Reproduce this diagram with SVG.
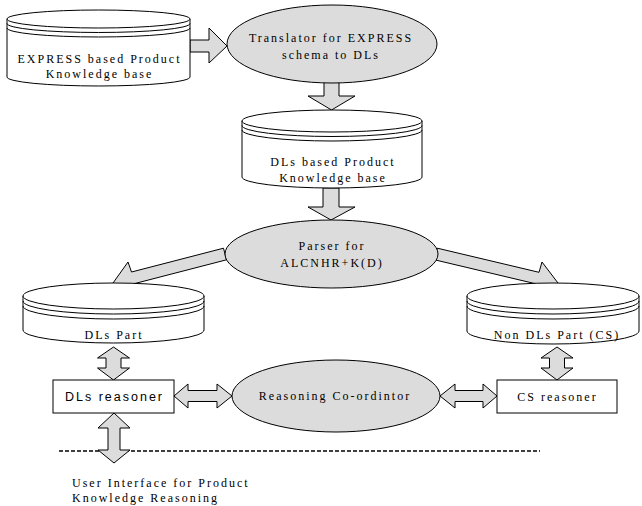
<svg xmlns="http://www.w3.org/2000/svg" width="642" height="506" viewBox="0 0 642 506">
<style>
.cyl{fill:#ffffff;stroke:#000;stroke-width:1}
.ln{fill:none;stroke:#000;stroke-width:1}
.proc{fill:#dcdcdc;stroke:#000;stroke-width:1}
.box{fill:#ffffff;stroke:#000;stroke-width:1}
.arr{fill:#dcdcdc;stroke:#000;stroke-width:1;stroke-linejoin:miter}
.t{font-family:"Liberation Serif","Times New Roman",serif;font-size:12px;letter-spacing:2px;fill:#000;text-anchor:middle}
.s{font-family:"Liberation Sans",Arial,sans-serif;font-size:12.5px;letter-spacing:2px;fill:#000;text-anchor:middle}
.tl{font-family:"Liberation Serif","Times New Roman",serif;font-size:12px;letter-spacing:2px;fill:#000}
</style>
<rect width="642" height="506" fill="#ffffff"/>
<g id="connectors">
<line x1="59" y1="451" x2="540" y2="451" stroke="#000" stroke-width="1.5" stroke-dasharray="4 2"/>
<polygon class="arr" points="190,40 209,40 209,28 227,46 209,63 209,52 190,52"/>
<polygon class="arr" points="324,80 339,80 339,96 355,96 331.5,110 308,96 324,96"/>
<polygon class="arr" points="323,188 339,188 339,207 355,207 331,220 308,207 323,207"/>
<polygon class="arr" points="223.5,248.2 131.5,272 128,262 113,283 139,293.5 134.5,283.6 226.5,259.8"/>
<polygon class="arr" points="437.4,248.2 539,272.3 542,262 558,283 531,293.5 536.2,283.9 434.6,259.8"/>
<polygon class="arr" points="113.5,347 129.5,358 121,358 121,368 129.5,368 113.5,380 97.5,368 106,368 106,358 97.5,358"/>
<polygon class="arr" points="557,347 573,358 564.5,358 564.5,368 573,368 557,380 541,368 549.5,368 549.5,358 541,358"/>
<polygon class="arr" points="114,413 130,428 120,428 120,450 130,450 114,463 98,450 108,450 108,428 98,428"/>
<polygon class="arr" points="174,396 188,384 188,390.5 217,390.5 217,384 232,396 217,408 217,401.5 188,401.5 188,408"/>
<polygon class="arr" points="440,396 455,384 455,390.5 483,390.5 483,384 497,396 483,408 483,401.5 455,401.5 455,408"/>
</g>
<g id="express-kb">
<path class="cyl" d="M7,19 L7,77 A91.5,9 0 0 0 190,77 L190,19 Z"/>
<ellipse class="cyl" cx="98.5" cy="19" rx="91.5" ry="9"/>
<path class="ln" d="M7,23.5 A91.5,9 0 0 0 190,23.5 M7,28 A91.5,9 0 0 0 190,28"/>
<text class="t" x="99.5" y="63">EXPRESS based Product</text>
<text class="t" x="99.5" y="78">Knowledge base</text>
</g>
<g id="translator">
<ellipse class="proc" cx="332" cy="44" rx="105" ry="39"/>
<text class="t" x="331" y="42">Translator for EXPRESS</text>
<text class="t" x="331" y="59">schema to DLs</text>
</g>
<g id="dls-kb">
<path class="cyl" d="M242,121 L242,177 A90,11 0 0 0 422,177 L422,121 Z"/>
<ellipse class="cyl" cx="332" cy="121" rx="90" ry="11"/>
<path class="ln" d="M242,125.5 A90,11 0 0 0 422,125.5 M242,130 A90,11 0 0 0 422,130"/>
<text class="t" x="333" y="166">DLs based Product</text>
<text class="t" x="333" y="182">Knowledge base</text>
</g>
<g id="parser">
<ellipse class="proc" cx="331.5" cy="254" rx="106.5" ry="34"/>
<text class="t" x="332" y="250">Parser for</text>
<text class="t" x="332" y="267">ALCNHR+K(D)</text>
</g>
<g id="dls-part">
<path class="cyl" d="M23,296 L23,330 A90.5,13 0 0 0 204,330 L204,296 Z"/>
<ellipse class="cyl" cx="113.5" cy="296" rx="90.5" ry="13"/>
<path class="ln" d="M23,301 A90.5,13 0 0 0 204,301 M23,306 A90.5,13 0 0 0 204,306"/>
<text class="t" x="114" y="339">DLs Part</text>
</g>
<g id="non-dls-part">
<path class="cyl" d="M467,296 L467,331 A86,13 0 0 0 639,331 L639,296 Z"/>
<ellipse class="cyl" cx="553" cy="296" rx="86" ry="13"/>
<path class="ln" d="M467,301 A86,13 0 0 0 639,301 M467,306 A86,13 0 0 0 639,306"/>
<text class="t" x="557" y="339">Non DLs Part (CS)</text>
</g>
<g id="dls-reasoner">
<rect class="box" x="53" y="380" width="121" height="33"/>
<text class="s" x="114.5" y="401">DLs reasoner</text>
</g>
<g id="coordinator">
<ellipse class="proc" cx="336" cy="396" rx="104" ry="36"/>
<text class="t" x="335" y="400">Reasoning Co-ordintor</text>
</g>
<g id="cs-reasoner">
<rect class="box" x="497" y="380" width="120" height="33"/>
<text class="t" x="557.5" y="401">CS reasoner</text>
</g>
<g id="user-interface">
<text class="tl" x="72" y="487">User Interface for Product</text>
<text class="tl" x="72" y="502">Knowledge Reasoning</text>
</g>
</svg>
